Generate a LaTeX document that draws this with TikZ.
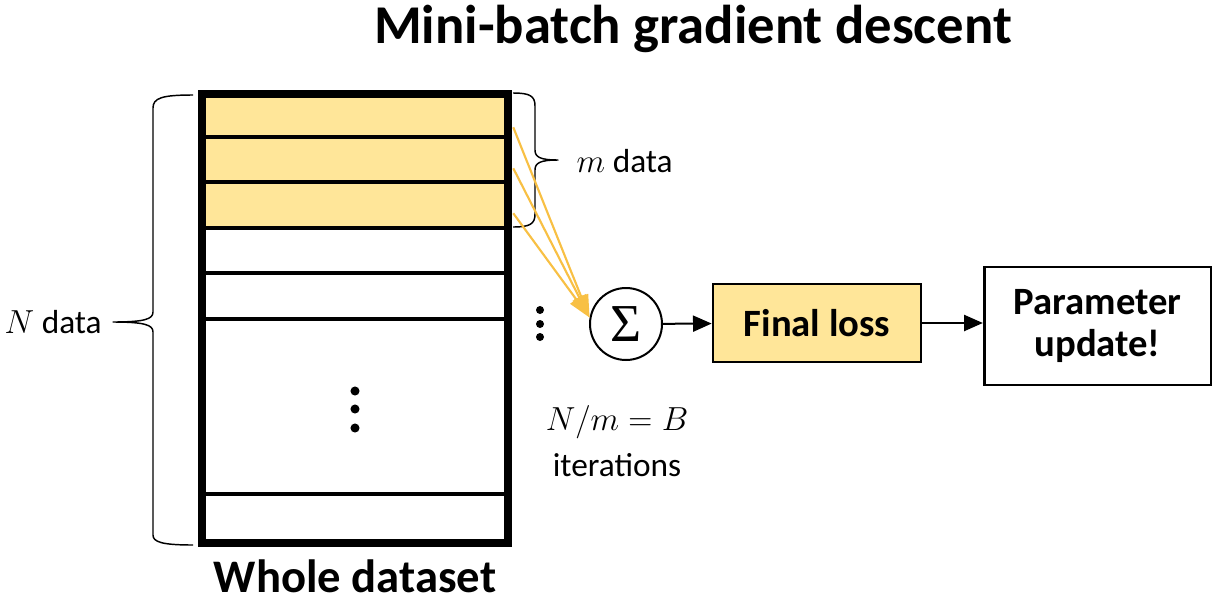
\RequirePackage{fix-cm}
\documentclass[tikz,border=0pt]{standalone}
\usepackage{fontspec}
\setmainfont{Carlito}
\newfontfamily\sumfont{Liberation Serif}
\usepackage{tikz}
\usetikzlibrary{arrows.meta, positioning, calc, fit}
\definecolor{batchfill}{HTML}{FFE699}
\definecolor{flowyellow}{HTML}{F8C044}

\begin{document}
\begin{tikzpicture}[x=0.75pt, y=-0.75pt,
    batch/.style={fill=batchfill, inner sep=0pt},
    divider/.style={line width=2.6pt},
    braceline/.style={line width=1.1pt, line join=round},
    yarrow/.style={flowyellow, line width=1.6pt, -{Triangle[length=17pt, width=11pt]}},
    karrow/.style={line width=1.5pt, -{Triangle[length=14pt, width=12pt]}},
    procbox/.style={draw, line width=2pt, align=center, font=\fontsize{29}{32}\selectfont\bfseries},
    txt/.style={font=\fontsize{25}{30}\selectfont}]
    \useasboundingbox (0,0) rectangle (1216,604);

    % title
    \node[font=\fontsize{41}{48}\selectfont\bfseries, anchor=base] (title) at (693,43) {Mini-batch gradient descent};

    % the data set with the first mini-batch
    \node[batch, fit={(202,94) (508,137)}] (b1) {};
    \node[batch, fit={(202,137) (508,182)}] (b2) {};
    \node[batch, fit={(202,182) (508,228)}] (b3) {};
    \foreach \y in {137,182,228,273,319,494}
        \draw[divider] (202,\y) -- (508,\y);
    \node[fit={(202,94) (508,543)}, draw, line width=6.5pt, inner sep=0pt] (dataset) {};
    \foreach \y in {391,409,428}
        \fill (355,\y) circle (3.4pt);
    \node[font=\fontsize{35}{40}\selectfont\bfseries, anchor=base, inner sep=1pt] (whole) at (355,592) {Whole dataset};

    % braces
    \draw[braceline] (513,93) .. controls (530,93) and (535,96) .. (535,106) -- (535,150)
        .. controls (535,157) and (540,160) .. (558,160) .. controls (540,160) and (535,163) .. (535,170)
        -- (535,214) .. controls (535,224) and (530,227) .. (513,227);
    \node[txt, anchor=base west] (mdata) at (572,172) {$m$ data};
    \draw[braceline] (193,95) .. controls (162,95) and (153,98) .. (153,108) -- (153,312)
        .. controls (153,319) and (145,322) .. (113,322) .. controls (145,322) and (153,325) .. (153,332)
        -- (153,535) .. controls (153,542) and (162,545) .. (193,545);
    \node[txt, anchor=base west, inner sep=1pt] (ndata) at (3,333) {$N$ data};

    % sum and update
    \node[draw, circle, line width=1.5pt, minimum size=54pt, inner sep=0pt,
        font=\fontsize{40}{40}\sumfont] (sum) at (626,324) {Σ};
    \node[procbox, fill=batchfill, minimum width=156pt, minimum height=58.5pt] (loss) at (817,323) {Final loss};
    \node[procbox, minimum width=170pt, minimum height=88.5pt] (update) at (1097.5,326) {Parameter\\update!};

    \foreach \i/\dy in {1/10, 2/14, 3/15}
        \draw[yarrow] ($(b\i.south east)+(5,-\dy)$) -- (sum.170);
    \draw[karrow] (sum) -- (loss);
    \draw[karrow] (loss.east) -- (update.west |- loss.east);

    \foreach \y in {310,324,337}
        \fill (540,\y) circle (3pt);
    \node[txt, anchor=base] (ratio) at (617,430) {$N/m=B$};
    \node[txt, anchor=base] (iters) at (617,476) {iterations};
\end{tikzpicture}
\end{document}
